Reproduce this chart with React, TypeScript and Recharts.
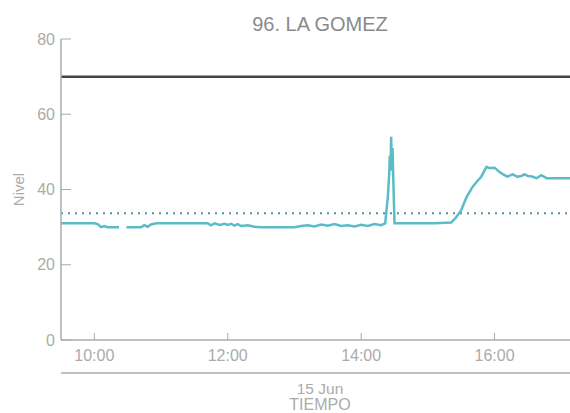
import React from "react";
import { LineChart, Line, XAxis, YAxis, ReferenceLine } from "recharts";

const TITLE = "96. LA GOMEZ";
const Y_LABEL = "Nivel";
const DATE_LABEL = "15 Jun";
const X_LABEL = "TIEMPO";

const timeHours: number[] = [
  9.5, 9.7, 9.9, 10.0, 10.05, 10.1, 10.15, 10.2, 10.25, 10.3, 10.37, 10.42, 10.48,
  10.6, 10.7, 10.75, 10.8, 10.85, 10.93, 11.2, 11.5, 11.7, 11.75, 11.8, 11.88,
  11.95, 12.0, 12.05, 12.1, 12.15, 12.2, 12.3, 12.4, 12.5, 12.75, 13.0, 13.1,
  13.2, 13.3, 13.4, 13.5, 13.6, 13.7, 13.8, 13.9, 14.0, 14.1, 14.2, 14.3, 14.36,
  14.4, 14.42, 14.43, 14.44, 14.45, 14.46, 14.47, 14.48, 14.5, 14.8, 15.1, 15.35,
  15.42, 15.5, 15.58, 15.67, 15.73, 15.8, 15.88, 15.92, 16.0, 16.07, 16.13, 16.19,
  16.27, 16.34, 16.4, 16.45, 16.5, 16.55, 16.63, 16.7, 16.78, 17.0, 17.27,
];

const levels: (number | null)[] = [
  31, 31, 31, 31, 30.8, 30.0, 30.3, 30.0, 30.0, 30.0, 30.0, null, 30.0,
  30.0, 30.0, 30.5, 30.1, 30.7, 31.0, 31.0, 31.0, 31.0, 30.5, 31.0, 30.6,
  30.9, 30.6, 30.9, 30.4, 30.8, 30.3, 30.5, 30.1, 30.0, 30.0, 30.0, 30.3,
  30.5, 30.2, 30.7, 30.4, 30.8, 30.3, 30.5, 30.2, 30.6, 30.3, 30.8, 30.5, 31.0,
  38, 44, 49, 45, 54, 45, 51, 44, 31, 31, 31, 31.2,
  32.5, 34.5, 38, 40.7, 42, 43.4, 46, 45.7, 45.8, 44.7, 44, 43.4,
  44, 43.4, 43.6, 44, 43.6, 43.5, 43, 43.8, 43, 43, 43,
];

const xTicks = [10, 12, 14, 16];
const yTicks = [0, 20, 40, 60, 80];
const X_DOMAIN: [number, number] = [9.5, 17.266];
const Y_DOMAIN: [number, number] = [0, 80];
const UPPER_LIMIT = 70;
const MEAN_LEVEL = 33.7;

const data = timeHours.map((t, i) => ({ t, nivel: levels[i] }));

const FONT = "'Liberation Sans', Arial, Helvetica, sans-serif";
const GRAY = "#ababab";

const fmtTime = (h: number) => {
  const hh = Math.floor(h);
  const mm = Math.round((h - hh) * 60);
  return `${hh}:${String(mm).padStart(2, "0")}`;
};

const XTick = (props: any) => {
  const { x, y, payload } = props;
  return (
    <g>
      <line x1={x} x2={x} y1={y} y2={y - 7} stroke={GRAY} strokeWidth={1} />
      <text x={x} y={y + 21} textAnchor="middle" fill={GRAY} fontSize={16} fontFamily={FONT}>
        {fmtTime(payload.value)}
      </text>
    </g>
  );
};

const YTick = (props: any) => {
  const { x, y, payload } = props;
  return (
    <g>
      <line x1={x} x2={x + 10} y1={y} y2={y} stroke={GRAY} strokeWidth={1} />
      <text x={x - 6} y={y} dy="0.35em" textAnchor="end" fill={GRAY} fontSize={16} fontFamily={FONT}>
        {payload.value}
      </text>
    </g>
  );
};

const YLabel = (props: any) => {
  const vb = props.viewBox || {};
  const cx = 19;
  const cy = vb.y + vb.height / 2;
  return (
    <text
      x={cx}
      y={cy}
      transform={`rotate(-90 ${cx} ${cy})`}
      textAnchor="middle"
      dy="0.35em"
      fill={GRAY}
      fontSize={15}
      fontFamily={FONT}
    >
      {Y_LABEL}
    </text>
  );
};

// The time axis is 73px tall: tick labels on top, then a second axis rule
// with the date and axis title underneath.
const TimeAxisLabel = (props: any) => {
  const vb = props.viewBox || {};
  const cx = vb.x + vb.width / 2;
  const ruleY = vb.y + 33;
  return (
    <g>
      <line x1={vb.x} x2={vb.x + vb.width} y1={ruleY} y2={ruleY} stroke={GRAY} strokeWidth={1.5} />
      <text x={cx} y={ruleY + 21} textAnchor="middle" fill={GRAY} fontSize={15.5} fontFamily={FONT}>
        {DATE_LABEL}
      </text>
      <text x={cx} y={ruleY + 37} textAnchor="middle" fill={GRAY} fontSize={16} fontFamily={FONT}>
        {X_LABEL}
      </text>
    </g>
  );
};

export default function App() {
  return (
    <div
      style={{
        position: "absolute",
        left: 0,
        top: 0,
        width: 570,
        height: 413,
        overflow: "hidden",
        background: "#fff",
      }}
    >
      <div
        style={{
          position: "absolute",
          left: 61,
          width: 518,
          top: 14,
          textAlign: "center",
          fontFamily: FONT,
          fontSize: 20,
          lineHeight: "20px",
          color: "#8a8a8a",
        }}
      >
        {TITLE}
      </div>
      <LineChart
        width={580}
        height={413}
        data={data}
        margin={{ top: 39, right: 1, bottom: 0, left: 0 }}
        style={{ position: "absolute", left: 0, top: 0 }}
      >
        <XAxis
          dataKey="t"
          type="number"
          domain={X_DOMAIN}
          ticks={xTicks}
          allowDataOverflow
          height={73}
          tickSize={0}
          tickMargin={0}
          tickLine={false}
          tick={<XTick />}
          axisLine={{ stroke: GRAY, strokeWidth: 1.5 }}
          label={{ content: TimeAxisLabel }}
          interval={0}
        />
        <YAxis
          type="number"
          domain={Y_DOMAIN}
          ticks={yTicks}
          width={61}
          tickSize={0}
          tickMargin={0}
          tickLine={false}
          tick={<YTick />}
          axisLine={{ stroke: GRAY, strokeWidth: 1.5 }}
          label={{ content: YLabel }}
          interval={0}
        />
        <ReferenceLine y={UPPER_LIMIT} stroke="#444444" strokeWidth={2.5} />
        <ReferenceLine y={MEAN_LEVEL} stroke="#4f93a6" strokeWidth={2} strokeDasharray="2 5" />
        <Line
          type="linear"
          dataKey="nivel"
          stroke="#5bbcc8"
          strokeWidth={2.5}
          dot={false}
          connectNulls={false}
          isAnimationActive={false}
        />
      </LineChart>
    </div>
  );
}
